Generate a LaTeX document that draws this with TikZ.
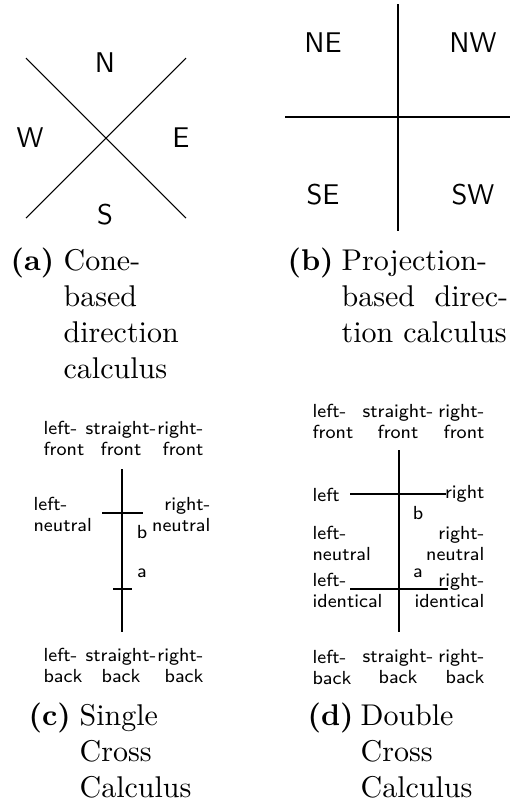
\documentclass[tikz,border=0pt]{standalone}
\usepackage{fontspec}
\begin{document}
\begin{tikzpicture}[x=0.33333pt,y=-0.33333pt,
  lbl/.style={font=\sffamily\fontsize{6.3}{7}\selectfont,inner sep=0pt},
  dirl/.style={font=\sffamily\fontsize{9.5}{11}\selectfont,inner sep=0pt},
  capl/.style={font=\fontsize{10}{12}\selectfont,inner sep=0pt,anchor=base west},
  ln/.style={line width=0.35pt}]
\useasboundingbox (0,0) rectangle (510,810);
% (a) cone-based
\coordinate (a1) at (26,58);
\coordinate (a2) at (186,218);
\coordinate (a3) at (26,218);
\coordinate (a4) at (186,58);
\draw[ln] (a1) -- (a2);
\draw[ln] (a3) -- (a4);
\node[dirl] (aN) at (105,63) {N};
\node[dirl] (aW) at (30,138) {W};
\node[dirl] (aE) at (181,138) {E};
\node[dirl] (aS) at (105,215) {S};
% (b) projection-based
\coordinate (bT) at (398,4);
\coordinate (bB) at (398,231);
\coordinate (bL) at (285,117);
\coordinate (bR) at (510,117);
\draw[ln] (bT) -- (bB);
\draw[ln] (bL) -- (bR);
\node[dirl] (bNE) at (323,43) {NE};
\node[dirl] (bNW) at (473,43) {NW};
\node[dirl] (bSE) at (323,195) {SE};
\node[dirl] (bSW) at (473,195) {SW};
% captions a,b
\node[capl] (capaL) at (10,270) {\textbf{(a)}};
\node[capl] (capaT) at (63,270) {\begin{tabular}[t]{@{}l@{}}Cone-\\based\\direction\\calculus\end{tabular}};
\node[capl] (capbL) at (287,270) {\textbf{(b)}};
\node[capl] (capbT) at (341,270) {\begin{tabular}[t]{@{}l@{}}Projection-\\\hbox to 55.5pt{based\hfill direc-}\\tion calculus\end{tabular}};
% (c) single cross
\coordinate (cT) at (122,469);
\coordinate (cB) at (122,632);
\coordinate (cbL) at (102,513);
\coordinate (cbR) at (143,513);
\coordinate (caL) at (113,589);
\coordinate (caR) at (132,589);
\draw[ln] (cT) -- (cB);
\draw[ln] (cbL) -- (cbR);
\draw[ln] (caL) -- (caR);
\node[lbl] (cb) at (142,532) {b};
\node[lbl] (ca) at (142,573) {a};
\node[lbl,anchor=west,align=left] (clf) at (43,438.5) {left-\\front};
\node[lbl,align=center] (csf) at (121,438.5) {straight-\\front};
\node[lbl,anchor=east,align=right] (crf) at (204,438.5) {right-\\front};
\node[lbl,anchor=west,align=left] (cln) at (33,514.5) {left-\\neutral};
\node[lbl,anchor=east,align=right] (crn) at (211,514.5) {right-\\neutral};
\node[lbl,anchor=west,align=left] (clb) at (43,665.5) {left-\\back};
\node[lbl,align=center] (csb) at (121,665.5) {straight-\\back};
\node[lbl,anchor=east,align=right] (crb) at (204,665.5) {right-\\back};
% (d) double cross
\coordinate (dT) at (399,450);
\coordinate (dB) at (399,632);
\coordinate (duL) at (350,494);
\coordinate (duR) at (446,494);
\coordinate (dlL) at (350,589);
\coordinate (dlR) at (448,589);
\draw[ln] (dT) -- (dB);
\draw[ln] (duL) -- (duR);
\draw[ln] (dlL) -- (dlR);
\node[lbl,anchor=west] (dl) at (312,495) {left};
\node[lbl,anchor=east] (dr) at (485,494) {right};
\node[lbl] (db) at (418,513) {b};
\node[lbl] (da) at (418,573) {a};
\node[lbl,anchor=west,align=left] (dln) at (312,543.5) {left-\\neutral};
\node[lbl,anchor=east,align=right] (drn) at (485,543.5) {right-\\neutral};
\node[lbl,anchor=west,align=left] (dli) at (312,590.5) {left-\\identical};
\node[lbl,anchor=east,align=right] (dri) at (485,591) {right-\\identical};
\node[lbl,anchor=west,align=left] (dlf) at (312,421.5) {left-\\front};
\node[lbl,align=center] (dsf) at (398,421.5) {straight-\\front};
\node[lbl,anchor=east,align=right] (drf) at (485,421.5) {right-\\front};
\node[lbl,anchor=west,align=left] (dlb) at (312,667) {left-\\back};
\node[lbl,align=center] (dsb) at (398,667) {straight-\\back};
\node[lbl,anchor=east,align=right] (drb) at (485,667) {right-\\back};
% captions c,d
\node[capl] (capcL) at (28,725) {\textbf{(c)}};
\node[capl] (capcT) at (79,725) {\begin{tabular}[t]{@{}l@{}}Single\\Cross\\Calculus\end{tabular}};
\node[capl] (capdL) at (307,725) {\textbf{(d)}};
\node[capl] (capdT) at (360,725) {\begin{tabular}[t]{@{}l@{}}Double\\Cross\\Calculus\end{tabular}};
\end{tikzpicture}
\end{document}
